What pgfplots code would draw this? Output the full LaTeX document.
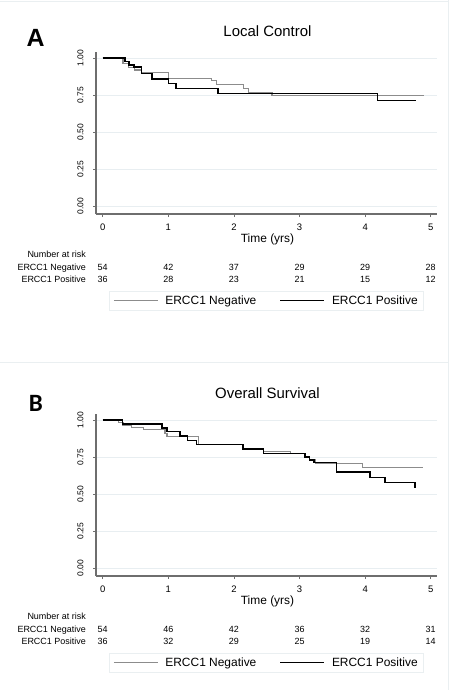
\documentclass[border=0pt]{standalone}
\usepackage{fontspec}
\setmainfont{Liberation Sans}
\newfontfamily\panelfont{Carlito}
\usepackage{pgfplots}
\pgfplotsset{compat=1.18}
\definecolor{negcol}{RGB}{140,140,140}
\definecolor{poscol}{RGB}{0,0,0}
\definecolor{axiscol}{RGB}{110,110,110}
\definecolor{gridcol}{RGB}{232,238,241}
\definecolor{framecol}{RGB}{234,239,241}
\pgfplotsset{kmaxis/.style={
  scale only axis, width=341bp, height=162bp,
  xmin=-0.102, xmax=5.094, ymin=-0.052, ymax=1.040,
  axis x line*=bottom, axis y line*=left,
  axis line style={axiscol, line width=1.3bp, -},
  xtick={0,1,2,3,4,5}, xticklabels={0,1,2,3,4,5},
  ytick={0,0.25,0.5,0.75,1}, yticklabels={0.00,0.25,0.50,0.75,1.00},
  tick align=outside, major tick length=3bp,
  tick style={axiscol, line width=0.8bp},
  ymajorgrids, grid style={gridcol, line width=0.8bp},
  yticklabel style={xshift=-6bp, rotate=90, anchor=south, font=\fontsize{8.5}{10}\selectfont},
  xticklabel style={yshift=-3.5bp, font=\fontsize{9.5}{10}\selectfont},
  clip=false,
  legend columns=2,
  legend cell align=left,
  legend style={at={(0.5,-0.473)}, anchor=north, draw=framecol, line width=0.8bp,
    font=\fontsize{12}{14}\selectfont, inner xsep=4bp, inner ysep=2.5bp,
    /tikz/every odd column/.append style={column sep=5bp},
    /tikz/every even column/.append style={column sep=21bp}},
  legend image code/.code={\draw[#1] (0bp,0bp) -- (44bp,0bp);},
  negstyle/.style={const plot, negcol, line width=1.1bp},
  posstyle/.style={const plot, poscol, line width=1.6bp},
}}
\begin{document}
\begin{tikzpicture}
\path[use as bounding box] (0,0) rectangle (450bp,-690bp);
\fill[white] (0,0) rectangle (450bp,-690bp);
% frames
\draw[framecol, line width=1bp] (0bp,-1bp) -- (448.5bp,-1bp);
\draw[framecol, line width=1bp] (448.5bp,0bp) -- (448.5bp,-690bp);
\draw[framecol, line width=1bp] (0bp,-362.3bp) -- (448.5bp,-362.3bp);

% ---------------- Panel A ----------------
\begin{axis}[kmaxis, at={(96bp,-214bp)}, anchor=south west]
\addplot[negstyle] coordinates {
(0,1) (0.31,0.96) (0.40,0.937) (0.48,0.919) (0.59,0.90) (1.00,0.863)
(1.66,0.846) (1.73,0.82) (2.14,0.793) (2.22,0.77) (2.58,0.748) (4.89,0.748)};
\addlegendentry{ERCC1 Negative}
\addplot[posstyle] coordinates {
(0,1) (0.34,0.975) (0.40,0.953) (0.48,0.937) (0.59,0.895) (0.75,0.856)
(1.00,0.829) (1.12,0.795) (1.76,0.761) (4.19,0.713) (4.77,0.713)};
\addlegendentry{ERCC1 Positive}
\end{axis}
\node[font=\fontsize{25}{28}\selectfont\bfseries] at (35.7bp,-37.5bp) {A};
\node[anchor=base, font=\fontsize{15}{17}\selectfont] at (267.5bp,-36bp) {Local Control};
\node[anchor=base, font=\fontsize{12}{14}\selectfont] at (267.5bp,-242.3bp) {Time (yrs)};
\begin{scope}[every node/.style={font=\fontsize{9}{10}\selectfont, inner sep=0pt}]
\node[anchor=base east] at (86bp,-257.3bp) {Number at risk};
\node[anchor=base east] at (86bp,-270bp) {ERCC1 Negative};
\node[anchor=base east] at (86bp,-282.7bp) {ERCC1 Positive};
\foreach \n [count=\i from 0] in {54,42,37,29,29,28}
  \node[anchor=base] at ({102.7bp+65.6bp*\i},-270bp) {\n};
\foreach \n [count=\i from 0] in {36,28,23,21,15,12}
  \node[anchor=base] at ({102.7bp+65.6bp*\i},-282.7bp) {\n};
\end{scope}

% ---------------- Panel B ----------------
\begin{axis}[kmaxis, at={(96bp,-576bp)}, anchor=south west]
\addplot[negstyle] coordinates {
(0,1) (0.24,0.982) (0.31,0.966) (0.44,0.95) (0.62,0.933) (0.95,0.91)
(0.98,0.888) (1.46,0.834) (2.14,0.81) (2.35,0.80) (2.45,0.787) (2.86,0.771)
(3.08,0.749) (3.15,0.731) (3.24,0.709) (3.56,0.704) (3.96,0.682) (4.88,0.682)};
\addlegendentry{ERCC1 Negative}
\addplot[posstyle] coordinates {
(0,1) (0.30,0.973) (0.90,0.944) (0.98,0.921) (1.18,0.892) (1.29,0.861)
(1.43,0.834) (2.14,0.805) (2.45,0.774) (3.08,0.749) (3.15,0.731) (3.22,0.713)
(3.56,0.648) (4.07,0.612) (4.30,0.578) (4.76,0.54)};
\addlegendentry{ERCC1 Positive}
\end{axis}
\node[font=\fontsize{25}{28}\selectfont\panelfont\bfseries] at (35.8bp,-403bp) {B};
\node[anchor=base, font=\fontsize{15}{17}\selectfont] at (267.5bp,-398bp) {Overall Survival};
\node[anchor=base, font=\fontsize{12}{14}\selectfont] at (267.5bp,-604.3bp) {Time (yrs)};
\begin{scope}[every node/.style={font=\fontsize{9}{10}\selectfont, inner sep=0pt}]
\node[anchor=base east] at (86bp,-619.3bp) {Number at risk};
\node[anchor=base east] at (86bp,-632bp) {ERCC1 Negative};
\node[anchor=base east] at (86bp,-644.7bp) {ERCC1 Positive};
\foreach \n [count=\i from 0] in {54,46,42,36,32,31}
  \node[anchor=base] at ({102.7bp+65.6bp*\i},-632bp) {\n};
\foreach \n [count=\i from 0] in {36,32,29,25,19,14}
  \node[anchor=base] at ({102.7bp+65.6bp*\i},-644.7bp) {\n};
\end{scope}
\end{tikzpicture}
\end{document}
